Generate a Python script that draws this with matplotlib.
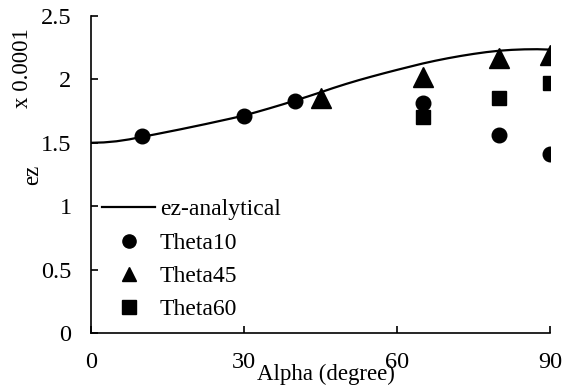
import matplotlib
matplotlib.use("Agg")
import matplotlib.pyplot as plt
import numpy as np

plt.rcParams['font.family'] = ['Liberation Serif', 'DejaVu Serif']

# analytical curve
alpha_curve = [0, 2.5, 5, 7.5, 10, 12.5, 15, 17.5, 20, 22.5, 25, 27.5, 30, 32.5, 35, 37.5,
               40, 42.5, 45, 47.5, 50, 52.5, 55, 57.5, 60, 62.5, 65, 67.5, 70, 72.5, 75,
               77.5, 80, 82.5, 85, 87.5, 90]
ez_curve = [1.500, 1.503, 1.512, 1.527, 1.547, 1.566, 1.586, 1.606, 1.627, 1.648, 1.670,
            1.692, 1.715, 1.743, 1.772, 1.802, 1.833, 1.865, 1.898, 1.932, 1.964, 1.994,
            2.022, 2.049, 2.075, 2.100, 2.125, 2.147, 2.167, 2.185, 2.201, 2.215, 2.226,
            2.233, 2.237, 2.238, 2.235]

alpha_t10 = [10, 30, 40, 65, 80, 90]
ez_t10 = [1.55, 1.715, 1.833, 1.81, 1.56, 1.41]

alpha_t45 = [45, 65, 80, 90]
ez_t45 = [1.85, 2.02, 2.17, 2.19]

alpha_t60 = [65, 80, 90]
ez_t60 = [1.70, 1.85, 1.97]

xticks = [0, 30, 60, 90]
yticks = [0, 0.5, 1, 1.5, 2, 2.5]
ytick_labels = ['0', '0.5', '1', '1.5', '2', '2.5']

fig = plt.figure(figsize=(5.67, 3.90), dpi=100)
ax = fig.add_axes([91/567, 1 - 333/390, (550-91)/567, (333-16)/390])

ax.plot(alpha_curve, ez_curve, color='black', lw=1.6, label='ez-analytical', zorder=2)
ax.plot(alpha_t10, ez_t10, 'o', color='black', ms=10.5, ls='none', label='Theta10', zorder=3)
ax.plot(alpha_t45, ez_t45, '^', color='black', ms=15, ls='none', label='Theta45', zorder=3)
ax.plot(alpha_t60, ez_t60, 's', color='black', ms=10.5, ls='none', label='Theta60', zorder=3)

ax.set_xlim(0, 90)
ax.set_ylim(0, 2.5)
ax.set_xticks(xticks)
ax.set_yticks(yticks)
ax.set_yticklabels(ytick_labels)
ax.spines['top'].set_visible(False)
ax.spines['right'].set_visible(False)
for s in ['left', 'bottom']:
    ax.spines[s].set_linewidth(1.2)
ax.tick_params(direction='in', length=5, width=1.2, labelsize=17.5)
ax.tick_params(axis='x', pad=14)
ax.tick_params(axis='y', pad=14)

fig.text(326/567, 1 - 374/390, 'Alpha (degree)', ha='center', va='center', fontsize=16.5)
fig.text(33/567, 1 - 175/390, 'ez', ha='center', va='center', rotation=90, fontsize=16.5)
fig.text(22/567, 1 - 68/390, 'x 0.0001', ha='center', va='center', rotation=90, fontsize=16.5)

leg = ax.legend(loc='upper left', bbox_to_anchor=(0.024, 0.423), frameon=False, fontsize=17,
                handlelength=2.25, handletextpad=0.2, labelspacing=0.5, borderaxespad=0,
                borderpad=0.0)
hs = leg.legend_handles
hs[1].set_markersize(9.5)
hs[2].set_markersize(9.5)
hs[3].set_markersize(9.5)

fig.savefig('out.png', dpi=100)
